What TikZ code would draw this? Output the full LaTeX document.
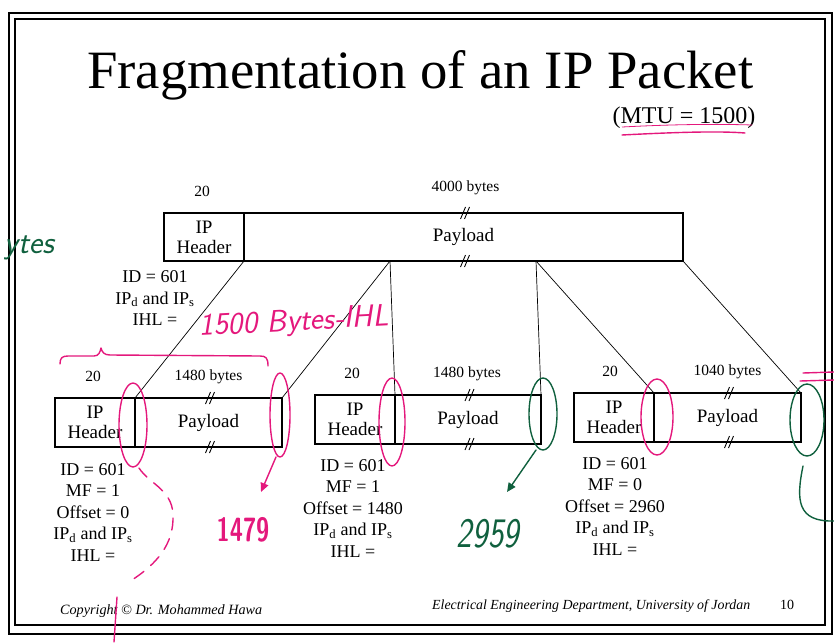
\documentclass[tikz,border=0pt]{standalone}
\usepackage{graphicx}
\usepackage{fontspec}
\setmainfont{Liberation Serif}
\usetikzlibrary{calc,arrows.meta}
\definecolor{pinkpen}{RGB}{228,24,124}
\definecolor{greenpen}{RGB}{16,96,62}
\tikzset{
  slideframe/.style={line width=1.6pt},
  hdr/.style={draw, line width=1.5pt, inner sep=0pt, outer sep=0pt, minimum width=80pt, minimum height=49pt, align=center, font=\fontsize{19}{20}\selectfont},
  pay/.style={draw, line width=1.5pt, inner sep=0pt, outer sep=0pt, minimum width=147pt, minimum height=49pt, font=\fontsize{19}{20}\selectfont},
  szlabel/.style={inner sep=0pt, font=\fontsize{15.5}{17}\selectfont},
  info/.style={inner sep=0pt, anchor=north, align=center, font=\fontsize{18}{21.5}\selectfont},
  link/.style={line width=0.7pt},
  brk/.style={line width=0.9pt},
  penline/.style={line width=1.4pt, line cap=round, line join=round},
  hand/.style={inner sep=0pt, font=\sffamily\itshape\fontsize{31}{33}\selectfont},
  foot/.style={inner sep=0pt, anchor=base west, font=\itshape\fontsize{13}{15}\selectfont},
}
\begin{document}
\begin{tikzpicture}[x=1pt,y=-1pt]
\useasboundingbox (0,0) rectangle (834,642);
% slide frame
\draw[slideframe] (9,13) rectangle (832,634);
\draw[slideframe] (15,19) rectangle (825,625);
% title
\node[anchor=base west, inner sep=0pt] (title) at (87,88) {\resizebox{666pt}{38pt}{Fragmentation of an IP Packet}};
\node[anchor=base, inner sep=0pt, font=\fontsize{24}{26}\selectfont] (mtu) at (684,123) {(MTU = 1500)};
% original packet
\node[hdr, minimum height=48pt] (h0) at (204,237) {IP\\Header};
\node[pay, minimum width=439pt, minimum height=48pt, anchor=west] (p0) at (h0.east) {Payload};
\node[szlabel] (s0a) at ($(h0.north)+(-2,-22)$) {20};
\node[szlabel] (s0b) at ($(p0.north)+(2,-25)$) {4000 bytes};
\node[info] (i0) at (155,270.5) {ID = 601\\IP\textsubscript{d} and IP\textsubscript{s}\\IHL =};
% fragments
\node[hdr] (h1) at (95,422.5) {IP\\Header};
\node[pay, anchor=west] (p1) at (h1.east) {Payload};
\node[hdr] (h2) at (355,419.5) {IP\\Header};
\node[pay, anchor=west, minimum width=146pt] (p2) at (h2.east) {Payload};
\node[hdr] (h3) at (614,417.5) {IP\\Header};
\node[pay, anchor=west] (p3) at (h3.east) {Payload};
\node[szlabel] (s1a) at ($(h1.north)+(-2,-21.5)$) {20};
\node[szlabel] (s1b) at ($(p1.north)+(0,-21.5)$) {1480 bytes};
\node[szlabel] (s2a) at ($(h2.north)+(-3,-21.5)$) {20};
\node[szlabel] (s2b) at ($(p2.north)+(-1,-21.5)$) {1480 bytes};
\node[szlabel] (s3a) at ($(h3.north)+(-4,-21.5)$) {20};
\node[szlabel] (s3b) at ($(p3.north)+(0,-21.5)$) {1040 bytes};
\node[info] (i1) at (93,463.3) {ID = 601\\MF = 1\\Offset = 0\\IP\textsubscript{d} and IP\textsubscript{s}\\IHL =};
\node[info] (i2) at (353,459.3) {ID = 601\\MF = 1\\Offset = 1480\\IP\textsubscript{d} and IP\textsubscript{s}\\IHL =};
\node[info] (i3) at (615,457.3) {ID = 601\\MF = 0\\Offset = 2960\\IP\textsubscript{d} and IP\textsubscript{s}\\IHL =};
% break marks
\foreach \n in {p0,p1,p2,p3}{
  \foreach \a in {north,south}{
    \draw[brk] ($(\n.\a)+(-3,6)$) -- ++(5,-12);
    \draw[brk] ($(\n.\a)+(1,6)$) -- ++(5,-12);
  }
}
% connectors
\coordinate (t1) at ($(p0.south west)+(146,0)$);
\coordinate (t2) at ($(p0.south west)+(292,0)$);
\draw[link] (h0.south east) -- (h1.north east);
\draw[link] (t1) -- (p1.north east);
\draw[link] (t1) -- (h2.north east);
\draw[link] (t2) -- (p2.north east);
\draw[link] (t2) -- (h3.north east);
\draw[link] (p0.south east) -- (p3.north east);
% footer
\node[foot] (copy) at (60,614) {\resizebox{202pt}{!}{Copyright \textcopyright\ Dr. Mohammed Hawa}};
\node[foot] (dept) at (432,609) {\resizebox{318pt}{!}{Electrical Engineering Department, University of Jordan}};
\node[anchor=base, inner sep=0pt, font=\fontsize{14}{15}\selectfont] (pg) at (787,609) {10};
% handwritten annotations
\draw[pinkpen, penline] (622,135) .. controls (680,132) and (720,131) .. (745,133);
\draw[pinkpen, line width=0.8pt] (622,127) .. controls (680,124) and (720,124) .. (752,125);
\node[hand, text=greenpen, font=\sffamily\itshape\fontsize{32}{34}\selectfont] (ann0) at (29,248) {ytes};
\node[hand, text=pinkpen, rotate=3] (ann1) at (294,323) {1500 Bytes-IHL};
\draw[pinkpen, penline] (60,364) .. controls (60,358) and (62,356) .. (68,356) -- (94,356) .. controls (99,356) and (100,352) .. (101,348) .. controls (102,352) and (104,355) .. (110,355) -- (260,356) .. controls (266,356) and (268,358) .. (268,366);
\draw[pinkpen, penline] (133,425) ellipse [x radius=14pt, y radius=42pt];
\draw[pinkpen, penline, dash pattern=on 12pt off 9pt] (139,468) .. controls (150,485) and (175,490) .. (173,520) .. controls (172,550) and (150,568) .. (132,580);
\draw[pinkpen, penline] (117,597) -- (114,642);
\draw[pinkpen, penline] (280,415) ellipse [x radius=10pt, y radius=42pt];
\draw[pinkpen, penline, -{Triangle[length=9pt,width=8pt]}] (276,457) -- (261,492);
\node[text=pinkpen, inner sep=0pt, font=\sffamily\bfseries\fontsize{24}{26}\selectfont] (ann2) at (243,530) {\scalebox{1}[1.4]{1479}};
\draw[pinkpen, penline] (392,422) ellipse [x radius=13pt, y radius=44pt];
\draw[greenpen, penline] (543,414) ellipse [x radius=14pt, y radius=36pt];
\draw[greenpen, penline, -{Triangle[length=9pt,width=8pt]}] (536,450) -- (507,492);
\node[text=greenpen, inner sep=0pt, font=\sffamily\itshape\fontsize{30}{32}\selectfont] (ann3) at (488,534) {\scalebox{1.1}[1.4]{2959}};
\draw[pinkpen, penline] (657,417) ellipse [x radius=16pt, y radius=38pt];
\draw[greenpen, penline] (807,420) ellipse [x radius=17pt, y radius=36pt];
\draw[greenpen, penline] (803,466) .. controls (796,500) and (797,522) .. (834,521);
\draw[pinkpen, penline] (803,373) -- (834,372) (800,381) -- (834,380);
\end{tikzpicture}
\end{document}
